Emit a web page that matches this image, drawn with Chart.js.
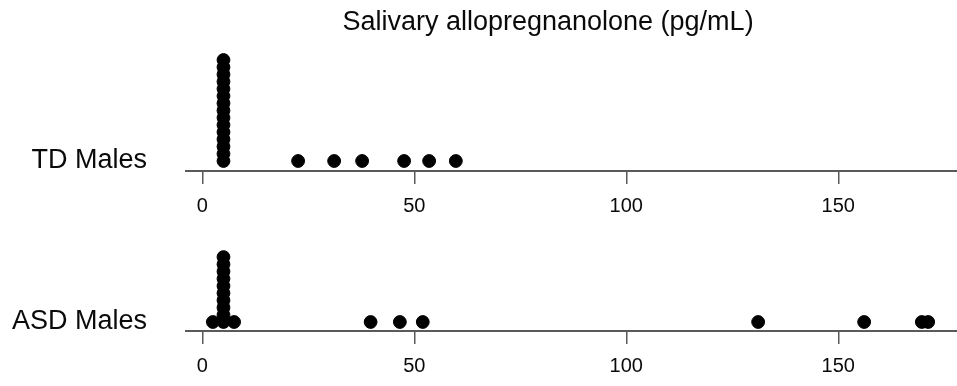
<!DOCTYPE html>
<html>
<head>
<meta charset="utf-8">
<script src="https://cdn.jsdelivr.net/npm/chart.js@4/dist/chart.umd.min.js"></script>
<style>
  html, body { margin:0; padding:0; background:#fff; width:957px; height:386px; overflow:hidden; }
  canvas { position:absolute; left:0; }
  #c1 { top:0; z-index:2; }
  #c2 { top:215px; z-index:1; }
</style>
</head>
<body>
<canvas id="c1" width="957" height="230"></canvas>
<canvas id="c2" width="957" height="171"></canvas>
<script>
// ---- data ----
const chartTitle = "Salivary allopregnanolone (pg/mL)";
const categories = ["TD Males", "ASD Males"];
const tdMales = [5, 5, 5, 5, 5, 5, 5, 5, 5, 5, 5, 5, 5, 5, 5,
                 22.6, 31.1, 37.7, 47.6, 53.5, 59.8];
const asdMales = [2.5, 5, 5, 5, 5, 5, 5, 5, 5, 5, 5, 7.5,
                  39.7, 46.6, 52.0, 131.1, 156.1, 169.7, 171.2];
const xTicks = [0, 50, 100, 150];

// ---- helpers ----
const FAMILY = '"Liberation Sans", Arial, Helvetica, sans-serif';
const AXIS_COLOR = '#5a5a5a';
const TEXT_COLOR = '#0a0a0a';

// stripchart "stack" method: equal values are piled up one above another
function stackPoints(values) {
  const seen = {};
  return values.map(v => {
    const k = String(v);
    seen[k] = (seen[k] || 0);
    const p = { x: v, y: seen[k] };
    seen[k] += 1;
    return p;
  });
}

// centre the title over the region right of x=139 (as in the reference)
const titleShift = {
  id: 'titleShift',
  afterLayout(chart) {
    if (chart.titleBlock && chart.options.plugins.title.display) {
      chart.titleBlock.left = 139;
      chart.titleBlock.right = chart.width;
      chart.titleBlock.width = chart.width - 139;
    }
  }
};

function makeChart(canvasId, values, label, yMin, yMax, xAxisHeight, withTitle) {
  return new Chart(document.getElementById(canvasId), {
    type: 'scatter',
    data: {
      datasets: [{
        label: label,
        data: stackPoints(values),
        backgroundColor: '#000',
        borderColor: '#000',
        borderWidth: 1,
        pointRadius: 6.4,
        pointHoverRadius: 6.4
      }]
    },
    plugins: [titleShift],
    options: {
      responsive: false,
      animation: false,
      events: [],
      layout: { autoPadding: false, padding: 0 },
      plugins: {
        legend: { display: false },
        tooltip: { enabled: false },
        title: {
          display: withTitle,
          text: chartTitle,
          color: TEXT_COLOR,
          font: { family: FAMILY, size: 27, weight: 'normal', lineHeight: 1.2 },
          padding: { top: 6, bottom: 4 }
        }
      },
      scales: {
        x: {
          type: 'linear',
          min: -3.84,
          max: 178,
          afterBuildTicks: s => { s.ticks = xTicks.map(v => ({ value: v })); },
          afterFit: s => { s.height = xAxisHeight; s.paddingLeft = 0; s.paddingRight = 0; },
          grid: { display: true, drawOnChartArea: false, drawTicks: true, tickLength: 13, color: AXIS_COLOR, lineWidth: 1.5 },
          border: { display: true, color: AXIS_COLOR, width: 2 },
          ticks: {
            font: { family: FAMILY, size: 20 },
            color: TEXT_COLOR,
            padding: 10,
            autoSkip: false,
            maxRotation: 0,
            callback: v => String(v)
          }
        },
        y: {
          type: 'linear',
          min: yMin,
          max: yMax,
          afterBuildTicks: s => { s.ticks = [{ value: 0 }]; },
          afterFit: s => { s.width = 186; s.paddingTop = 0; s.paddingBottom = 0; },
          grid: { display: false, drawTicks: false },
          border: { display: false },
          ticks: {
            font: { family: FAMILY, size: 27 },
            color: TEXT_COLOR,
            padding: 39,
            callback: () => label
          }
        }
      }
    }
  });
}

// top panel: chart area 42.4..171, bottom row at 161, 7.214 px per stacked dot
makeChart('c1', tdMales, categories[0], -1.386, 16.44, 59, true);
// bottom panel (canvas starts at 215): chart area 0..116, bottom row at 107
makeChart('c2', asdMales, categories[1], -1.248, 14.83, 55, false);
</script>
</body>
</html>
